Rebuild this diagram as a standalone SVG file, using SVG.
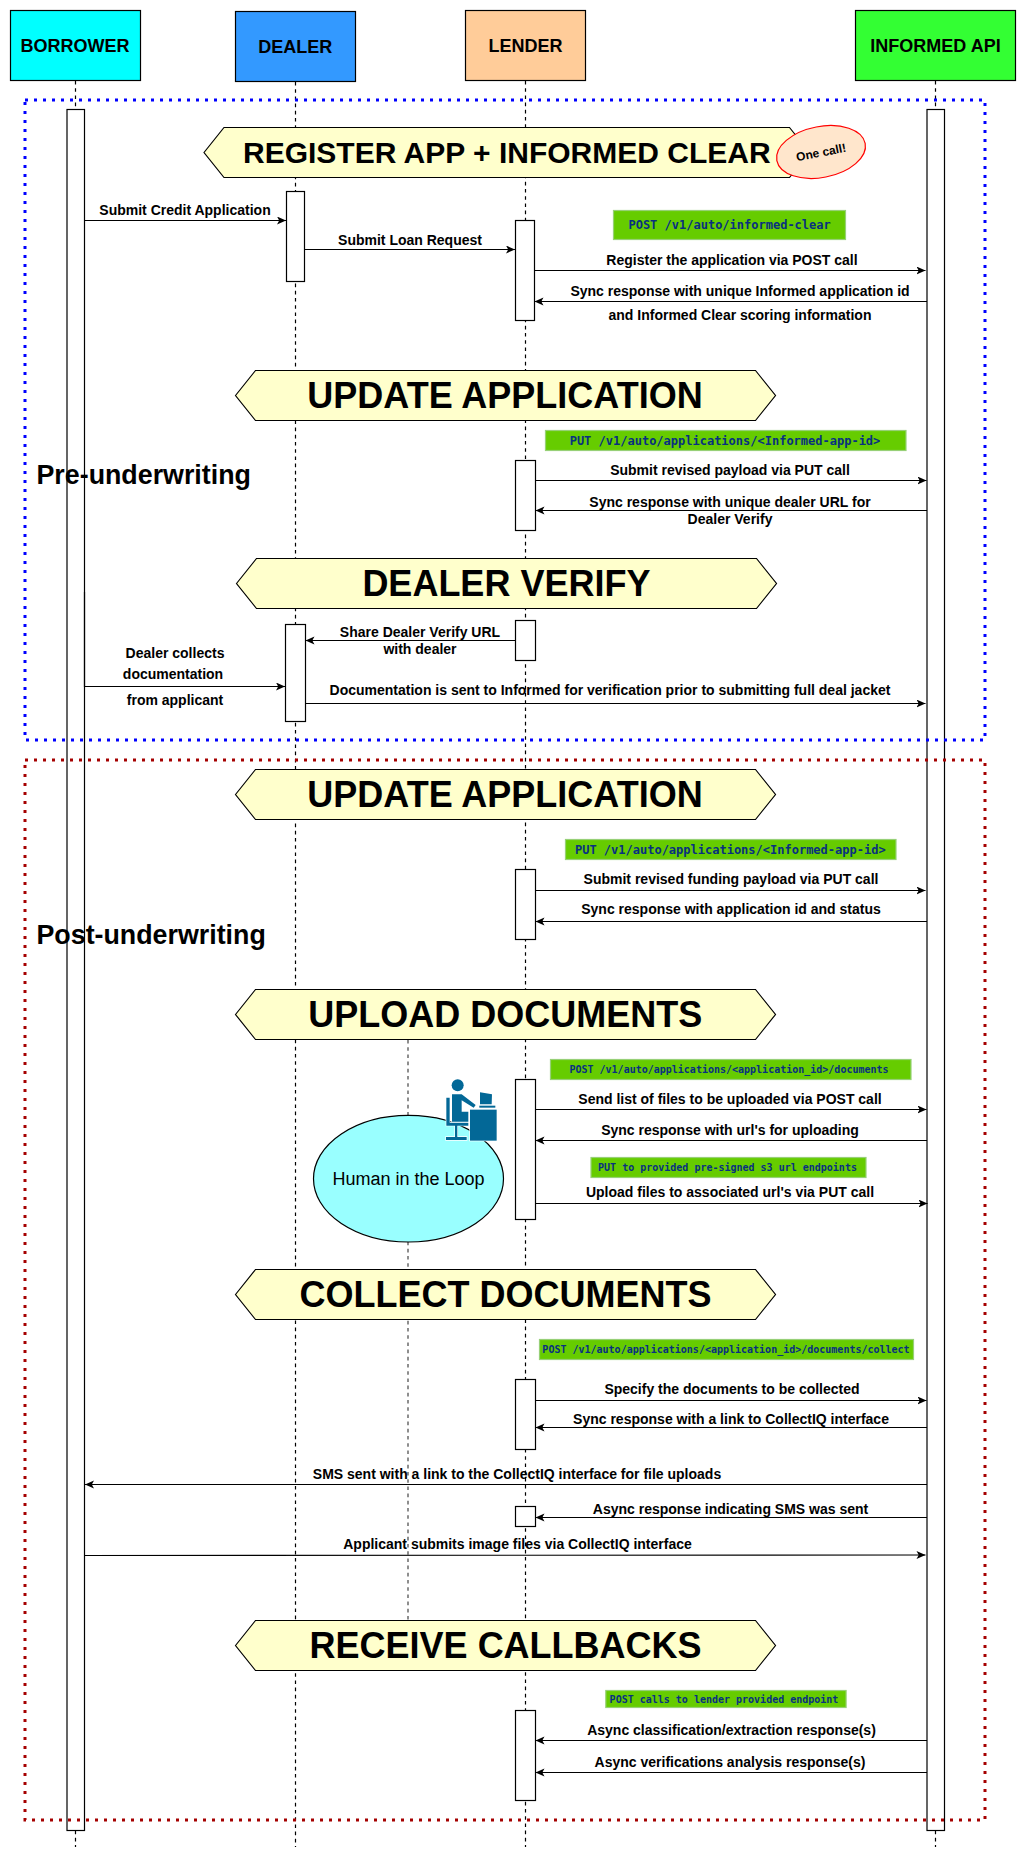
<svg xmlns="http://www.w3.org/2000/svg" width="1026" height="1861" viewBox="0 0 1026 1861">
<style>
text{font-family:"Liberation Sans",Arial,sans-serif;fill:#000;text-anchor:middle}
.actor{stroke:#000;stroke-width:1.2}
.actor-t{font-size:18px;font-weight:700}
.life{stroke:#000;stroke-width:1.2;stroke-dasharray:3.6 3.6;fill:none}
.act{fill:#fff;stroke:#000;stroke-width:1.2}
.hex{fill:#FFFFCC;stroke:#000;stroke-width:1.2}
.hex-t{font-size:36px;font-weight:700}
.msg{stroke:#000;stroke-width:1.2;fill:none;marker-end:url(#arr)}
.lab{font-size:14px;font-weight:700}
.big{font-size:26.8px;font-weight:700;text-anchor:start}
.api{fill:#66CC00;stroke:#97D077;stroke-width:1.2}
.api-t{font-family:"DejaVu Sans Mono","Liberation Mono",monospace;font-weight:700;fill:#083080}
.s12{font-size:12px}.s10{font-size:10px}
.dot{fill:none;stroke-width:3;stroke-dasharray:3 6}
.ic{fill:#036897}
</style>
<defs>
<marker id="arr" markerUnits="userSpaceOnUse" markerWidth="10" markerHeight="10" refX="9" refY="4" orient="auto"><path d="M0,0L9,4L0,8L2.2,4Z" fill="#000"/></marker>
</defs>
<g id="lifelines">
<path class="life" d="M75.5,81V1847M295.5,82V1847M525.5,81V1847M935.5,81V1847"/>
<path class="life" style="stroke:#444" d="M408,1040V1620"/>
</g>
<g id="node-borrower-bar"><rect class="act" x="67" y="109.5" width="17.5" height="1721"/></g>
<g id="node-api-bar"><rect class="act" x="927" y="109.5" width="17.5" height="1721"/></g>
<g id="node-borrower"><rect class="actor" x="10.5" y="10.5" width="130" height="70" fill="#00FFFF"/><text class="actor-t" x="75" y="52">BORROWER</text></g>
<g id="node-dealer"><rect class="actor" x="235.5" y="11.5" width="120" height="70" fill="#3399FF"/><text class="actor-t" x="295.3" y="53">DEALER</text></g>
<g id="node-lender"><rect class="actor" x="465.5" y="10.5" width="120" height="70" fill="#FFCC99"/><text class="actor-t" x="525.5" y="52">LENDER</text></g>
<g id="node-api"><rect class="actor" x="855.5" y="10.5" width="160" height="70" fill="#33FF33"/><text class="actor-t" x="935.5" y="52">INFORMED API</text></g>

<g id="node-hex-register"><polygon class="hex" points="204,152.5 224,127.5 789.5,127.5 809.5,152.5 789.5,177.5 224,177.5"/><text class="hex-t" style="font-size:30px" x="506.8" y="163">REGISTER APP + INFORMED CLEAR</text></g>
<g id="node-hex-update1"><polygon class="hex" points="235.5,395.5 255.5,370.5 755.5,370.5 775.5,395.5 755.5,420.5 255.5,420.5"/><text class="hex-t" x="505" y="408">UPDATE APPLICATION</text></g>
<g id="node-hex-verify"><polygon class="hex" points="236.5,583.5 256.5,558.5 756.5,558.5 776.5,583.5 756.5,608.5 256.5,608.5"/><text class="hex-t" x="506.4" y="596">DEALER VERIFY</text></g>
<g id="node-hex-update2"><polygon class="hex" points="235.5,794.5 255.5,769.5 755.5,769.5 775.5,794.5 755.5,819.5 255.5,819.5"/><text class="hex-t" x="505" y="807">UPDATE APPLICATION</text></g>
<g id="node-hex-upload"><polygon class="hex" points="235.5,1014.5 255.5,989.5 755.5,989.5 775.5,1014.5 755.5,1039.5 255.5,1039.5"/><text class="hex-t" x="505.3" y="1027">UPLOAD DOCUMENTS</text></g>
<g id="node-hex-collect"><polygon class="hex" points="235.5,1294.5 255.5,1269.5 755.5,1269.5 775.5,1294.5 755.5,1319.5 255.5,1319.5"/><text class="hex-t" x="505.5" y="1307">COLLECT DOCUMENTS</text></g>
<g id="node-hex-callbacks"><polygon class="hex" points="235.5,1645.5 255.5,1620.5 755.5,1620.5 775.5,1645.5 755.5,1670.5 255.5,1670.5"/><text class="hex-t" x="505.6" y="1658">RECEIVE CALLBACKS</text></g>

<g id="node-one-call"><ellipse cx="821" cy="152" rx="45" ry="25.5" fill="#FFE6CC" stroke="#FF0000" stroke-width="1.2" transform="rotate(-11 821 152)"/><text font-size="12" font-weight="700" x="821" y="156.5" transform="rotate(-11 821 152)">One call!</text></g>

<g id="node-activations">
<rect class="act" x="286.5" y="191.5" width="18" height="90"/>
<rect class="act" x="515.5" y="220.5" width="19" height="100"/>
<rect class="act" x="515.5" y="460.5" width="20" height="70"/>
<rect class="act" x="515.5" y="620.5" width="20" height="40"/>
<rect class="act" x="285.5" y="624.5" width="20" height="97"/>
<rect class="act" x="515.5" y="869.5" width="20" height="70"/>
<rect class="act" x="515.5" y="1079.5" width="20" height="140"/>
<rect class="act" x="515.5" y="1379.5" width="20" height="70"/>
<rect class="act" x="515.5" y="1506.5" width="20" height="20"/>
<rect class="act" x="515.5" y="1710.5" width="20" height="90"/>
</g>

<g id="node-human"><ellipse cx="408.5" cy="1178.7" rx="95" ry="63.3" fill="#99FFFF" stroke="#000" stroke-width="1.2"/><text font-size="18" x="408.5" y="1185">Human in the Loop</text></g>
<g id="node-icon" transform="translate(440 1075) scale(.3333)">
<g stroke="#fff" stroke-width="4" class="ic" paint-order="stroke">
<circle cx="53" cy="31" r="18"/>
<path d="M19,68H29V143H85V152H52V186H80V195H18V186H45V152H19Z"/>
<path d="M36,58H65L107,90L101,98L65,76V110H85V140H36Z"/>
<rect x="90" y="104" width="80" height="93"/>
<path d="M120,52L156,58L155,88H120Z"/>
<rect x="118" y="92" width="48" height="6"/>
</g>
</g>

<g id="connectors">
<path class="msg" d="M84.5,220.5H286"/>
<path class="msg" d="M304.5,249.5H515"/>
<path class="msg" d="M534.5,270.5H925.5"/>
<path class="msg" d="M927,301.5H534.5"/>
<path class="msg" d="M535.5,480.5H926.5"/>
<path class="msg" d="M927,510.5H535.5"/>
<path class="msg" d="M515.5,640.5H305.5"/>
<path class="msg" d="M84.5,592V686.5H285"/>
<path class="msg" d="M305.5,703.5H925.5"/>
<path class="msg" d="M535.5,890.5H925.5"/>
<path class="msg" d="M927,921.5H535.5"/>
<path class="msg" d="M535.5,1109.5H926.5"/>
<path class="msg" d="M927,1140.5H535.5"/>
<path class="msg" d="M535.5,1203.5H927.5"/>
<path class="msg" d="M535.5,1400.5H926.5"/>
<path class="msg" d="M927,1427.5H535.5"/>
<path class="msg" d="M927,1484.5H85"/>
<path class="msg" d="M927,1517.5H535.5"/>
<path class="msg" d="M85,1555.5L925.5,1555"/>
<path class="msg" d="M927,1740.5H535.5"/>
<path class="msg" d="M927,1772.5H535.5"/>
</g>

<g id="connector-labels">
<text class="lab" x="185" y="215">Submit Credit Application</text>
<text class="lab" x="410" y="244.5">Submit Loan Request</text>
<text class="lab" x="732" y="264.5">Register the application via POST call</text>
<text class="lab" x="740" y="295.5">Sync response with unique Informed application id</text>
<text class="lab" x="740" y="319.5">and Informed Clear scoring information</text>
<text class="lab" x="730" y="475">Submit revised payload via PUT call</text>
<text class="lab" x="730" y="507">Sync response with unique dealer URL for</text>
<text class="lab" x="730" y="524">Dealer Verify</text>
<text class="lab" x="420" y="637">Share Dealer Verify URL</text>
<text class="lab" x="420" y="654">with dealer</text>
<text class="lab" x="175" y="658">Dealer collects</text>
<text class="lab" x="173" y="679">documentation</text>
<text class="lab" x="175" y="705">from applicant</text>
<text class="lab" x="610" y="695">Documentation is sent to Informed for verification prior to submitting full deal jacket</text>
<text class="lab" x="731" y="884">Submit revised funding payload via PUT call</text>
<text class="lab" x="731" y="914">Sync response with application id and status</text>
<text class="lab" x="730" y="1104">Send list of files to be uploaded via POST call</text>
<text class="lab" x="730" y="1135">Sync response with url's for uploading</text>
<text class="lab" x="730" y="1197">Upload files to associated url's via PUT call</text>
<text class="lab" x="732" y="1394">Specify the documents to be collected</text>
<text class="lab" x="731" y="1424">Sync response with a link to CollectIQ interface</text>
<text class="lab" x="517" y="1479">SMS sent with a link to the CollectIQ interface for file uploads</text>
<text class="lab" x="730.5" y="1514">Async response indicating SMS was sent</text>
<text class="lab" x="517.5" y="1549">Applicant submits image files via CollectIQ interface</text>
<text class="lab" x="731.5" y="1735">Async classification/extraction response(s)</text>
<text class="lab" x="730" y="1767">Async verifications analysis response(s)</text>
</g>

<g id="node-api-tags">
<rect class="api" x="613.5" y="210.5" width="232" height="29"/><text class="api-t s12" x="729.6" y="229">POST /v1/auto/informed-clear</text>
<rect class="api" x="545.5" y="430.5" width="360.5" height="20"/><text class="api-t s12" x="725" y="444.5">PUT /v1/auto/applications/&lt;Informed-app-id&gt;</text>
<rect class="api" x="565.5" y="839.5" width="330.5" height="20"/><text class="api-t s12" x="730.3" y="853.5">PUT /v1/auto/applications/&lt;Informed-app-id&gt;</text>
<rect class="api" x="550.5" y="1059.5" width="360.5" height="20"/><text class="api-t s10" x="729" y="1073">POST /v1/auto/applications/&lt;application_id&gt;/documents</text>
<rect class="api" x="591" y="1157.5" width="275" height="20"/><text class="api-t s10" x="727.5" y="1171">PUT to provided pre-signed s3 url endpoints</text>
<rect class="api" x="539.5" y="1339.5" width="374" height="20"/><text class="api-t s10" x="726" y="1353">POST /v1/auto/applications/&lt;application_id&gt;/documents/collect</text>
<rect class="api" x="605.8" y="1690.5" width="240.3" height="17"/><text class="api-t s10" x="724" y="1703">POST calls to lender provided endpoint</text>
</g>

<g id="node-phase-pre"><rect class="dot" x="25" y="100" width="960" height="640" stroke="#0000FF"/><text class="big" x="36.5" y="484">Pre-underwriting</text></g>
<g id="node-phase-post"><rect class="dot" x="25" y="760" width="960" height="1060" stroke="#A50000"/><text class="big" x="36.5" y="944">Post-underwriting</text></g>
</svg>
